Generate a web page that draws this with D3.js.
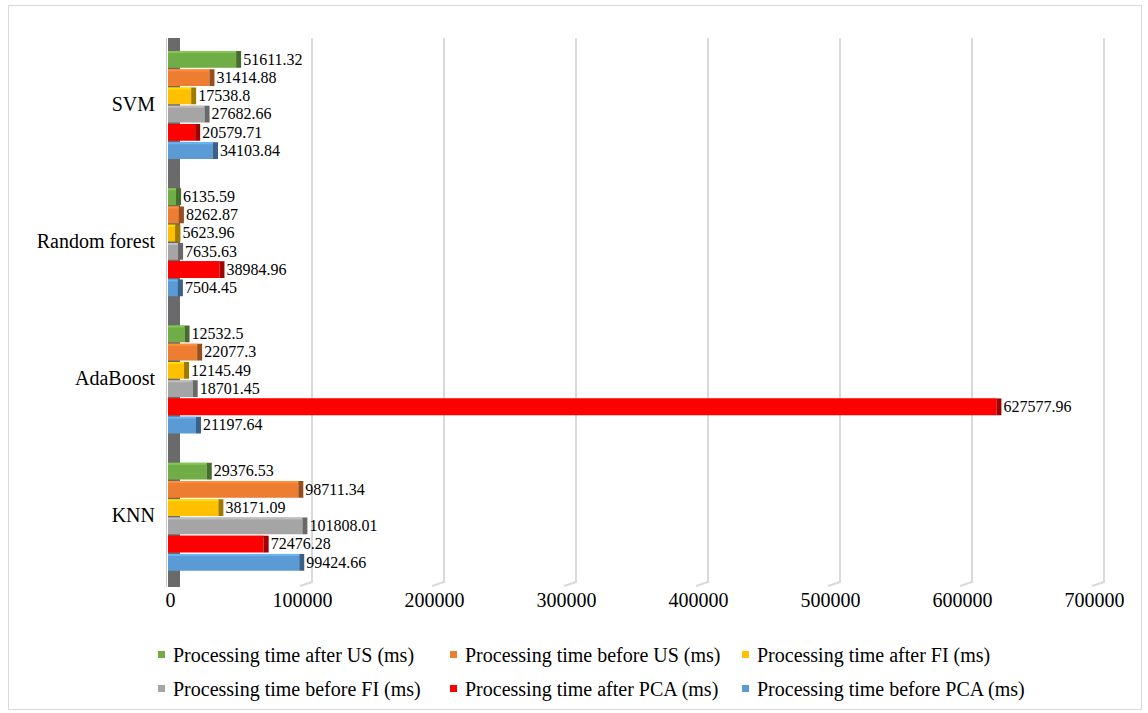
<!DOCTYPE html>
<html>
<head>
<meta charset="utf-8">
<script src="https://cdn.jsdelivr.net/npm/d3@7/dist/d3.min.js"></script>
<style>
  body { margin: 0; background: #fff; }
  text { font-family: "Liberation Serif", "Times New Roman", serif; fill: #000; }
</style>
</head>
<body>
<div id="content"></div>
<script>
// categories, top to bottom
const categories = ["SVM", "Random forest", "AdaBoost", "KNN"];

const seriesNames = [
    "Processing time after US (ms)",
    "Processing time before US (ms)",
    "Processing time after FI (ms)",
    "Processing time before FI (ms)",
    "Processing time after PCA (ms)",
    "Processing time before PCA (ms)"
];
const seriesColors = ["#70ad47", "#ed7d31", "#ffc000", "#a5a5a5", "#ff0000", "#5b9bd5"];

// values per category (same order as categories)
const afterUS   = [51611.32, 6135.59, 12532.5, 29376.53];
const beforeUS  = [31414.88, 8262.87, 22077.3, 98711.34];
const afterFI   = [17538.8, 5623.96, 12145.49, 38171.09];
const beforeFI  = [27682.66, 7635.63, 18701.45, 101808.01];
const afterPCA  = [20579.71, 38984.96, 627577.96, 72476.28];
const beforePCA = [34103.84, 7504.45, 21197.64, 99424.66];

const xTicks = [0, 100000, 200000, 300000, 400000, 500000, 600000, 700000];

const allSeries = [afterUS, beforeUS, afterFI, beforeFI, afterPCA, beforePCA];

const width = 1148, height = 713;
const depth = 12;   // 3d offset of the back wall
const capW = 5;

const svg = d3.select("#content")
    .append("svg")
    .attr("width", width)
    .attr("height", height);

// outer border
svg.append("rect")
    .attr("x", 8.5).attr("y", 5.5)
    .attr("width", 1133).attr("height", 704)
    .attr("fill", "none")
    .attr("stroke", "#d9d9d9");

const x = d3.scaleLinear()
    .domain([0, 700000])
    .range([168, 168 + 7 * 132]);

const y0 = d3.scaleBand()
    .domain(categories)
    .range([38, 587]);

const y1 = d3.scaleBand()
    .domain(d3.range(seriesNames.length))
    .range([13, 13 + 108])
    .paddingInner(0.08);

// back wall gridlines with the floor corner
svg.append("g")
    .selectAll("path")
    .data(xTicks.slice(1))
    .join("path")
    .attr("d", d => `M${x(d) + depth},38 V582 L${x(d)},586`)
    .attr("fill", "none")
    .attr("stroke", "#d9d9d9")
    .attr("stroke-width", 2);

// left wall (dark stubs between groups)
svg.append("line")
    .attr("x1", 166.5).attr("x2", 166.5)
    .attr("y1", 38).attr("y2", 587)
    .attr("stroke", "#c8ccd4");
svg.append("rect")
    .attr("x", 168).attr("y", 38)
    .attr("width", 12).attr("height", 549)
    .attr("fill", "#6a6a6a");

// bars
const rows = [];
categories.forEach((c, i) => {
    allSeries.forEach((s, j) => {
        rows.push({ cat: c, idx: j, value: s[i] });
    });
});

const bars = svg.append("g")
    .selectAll("g")
    .data(rows)
    .join("g")
    .attr("transform", d => `translate(0, ${y0(d.cat) + y1(d.idx)})`);

bars.append("rect")
    .attr("x", x(0))
    .attr("width", d => x(d.value) - x(0))
    .attr("height", y1.bandwidth())
    .attr("fill", d => seriesColors[d.idx]);

// lighter top face
bars.append("rect")
    .attr("x", x(0))
    .attr("width", d => x(d.value) - x(0))
    .attr("height", 2)
    .attr("fill", d => d3.color(seriesColors[d.idx]).brighter(0.4));

// dark end face
bars.append("rect")
    .attr("x", d => x(d.value))
    .attr("width", capW)
    .attr("height", y1.bandwidth())
    .attr("fill", d => d3.color(seriesColors[d.idx]).darker(1.3));

bars.append("text")
    .attr("x", d => x(d.value) + capW + 2)
    .attr("y", y1.bandwidth() / 2)
    .attr("dy", "0.33em")
    .style("font-size", "16px")
    .text(d => String(d.value));

// category labels
svg.append("g")
    .selectAll("text")
    .data(categories)
    .join("text")
    .attr("x", 155)
    .attr("y", d => y0(d) + y0.bandwidth() / 2 - 3)
    .attr("dy", "0.35em")
    .style("text-anchor", "end")
    .style("font-size", "20px")
    .text(d => d);

// x axis labels
const xAxis = svg.append("g")
    .attr("transform", "translate(2, 591)")
    .call(d3.axisBottom(x).tickValues(xTicks).tickFormat(d3.format("d")).tickSize(0).tickPadding(0));
xAxis.select(".domain").remove();
xAxis.selectAll("text")
    .attr("dy", "0.8em")
    .style("font-family", "'Liberation Serif', 'Times New Roman', serif")
    .style("font-size", "20px")
    .style("fill", "#000");

// legend
const legendPos = [
    { x: 158, y: 655 }, { x: 450, y: 655 }, { x: 742, y: 655 },
    { x: 158, y: 689 }, { x: 450, y: 689 }, { x: 742, y: 689 }
];
const legend = svg.append("g")
    .selectAll("g")
    .data(seriesNames)
    .join("g")
    .attr("transform", (d, i) => `translate(${legendPos[i].x}, ${legendPos[i].y})`);

legend.append("rect")
    .attr("x", 0).attr("y", -4)
    .attr("width", 7).attr("height", 7)
    .attr("fill", (d, i) => seriesColors[i]);

legend.append("text")
    .attr("x", 15)
    .attr("dy", "0.33em")
    .style("font-size", "20px")
    .text(d => d);
</script>
</body>
</html>
